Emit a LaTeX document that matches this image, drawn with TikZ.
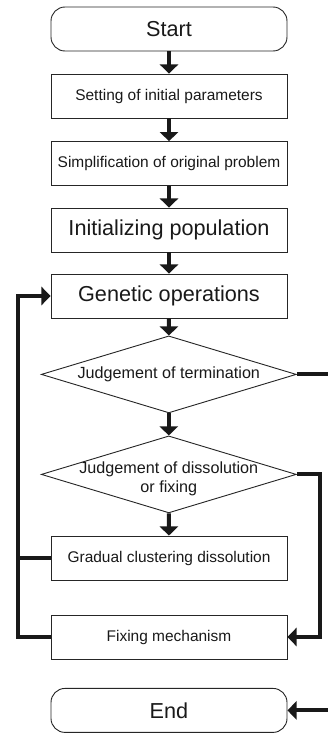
\documentclass[tikz,border=0pt]{standalone}
\usepackage{fontspec}
\setmainfont{Liberation Sans}
\usetikzlibrary{arrows.meta, shapes.geometric}

\begin{document}
\begin{tikzpicture}[
  box/.style={draw=black!85, line width=0.65pt, text=black!90, minimum width=5.9cm, minimum height=1.1cm, inner sep=0pt},
  term/.style={box, rounded corners=0.35cm},
  decision/.style={diamond, draw=black!85, line width=0.65pt, minimum width=6.375cm, minimum height=1.925cm, inner sep=0pt},
  dtext/.style={font=\fontsize{11.5}{13.5}\selectfont, text=black!90, align=center},
  big/.style={font=\fontsize{15.4}{18}\selectfont},
  small/.style={font=\fontsize{11}{13}\selectfont},
  flow/.style={line width=2.8pt, black!90, -{Triangle[width=13pt,length=6.5pt]}},
  link/.style={line width=2.8pt, black!90}
]
\useasboundingbox (0,0) rectangle (8.2,-18.325);
\clip (0,0) rectangle (8.2,-18.325);

\node[term,big]   (start) at (4.225,-0.725)  {Start};
\node[box,small]  (init)  at (4.225,-2.4)    {Setting of initial parameters};
\node[box,small]  (simp)  at (4.225,-4.09)   {Simplification of original problem};
\node[box,big]    (pop)   at (4.225,-5.75)   {Initializing population};
\node[box,big]    (gen)   at (4.225,-7.4)    {Genetic operations};
\node[decision, label={[dtext]center:Judgement of termination}] (term) at (4.22,-9.36) {};
\node[decision, label={[dtext,yshift=-0.1cm]center:{Judgement of dissolution\\or fixing}}] (judge) at (4.22,-11.86) {};
\node[box,small]  (grad)  at (4.225,-13.95)  {Gradual clustering dissolution};
\node[box,small]  (fix)   at (4.225,-15.925) {Fixing mechanism};
\node[term,big]   (end)   at (4.225,-17.76)  {End};

% side lines of the loops
\coordinate (lx) at (0.45,0);
\coordinate (rx) at (8.0,0);
\coordinate (ox) at (8.28,0); % runs off the right edge

\draw[flow] (start) -- (init);
\draw[flow] (init) -- (simp);
\draw[flow] (simp) -- (pop);
\draw[flow] (pop) -- (gen);
\draw[flow] (gen) -- (term);
\draw[flow] (term) -- (judge);
\draw[flow] (judge) -- (grad);

\draw[flow] (fix.west) -- (fix.west -| lx) |- (gen.west);
\draw[link] (grad.west) -- (grad.west -| lx);
\draw[flow] (judge.east) -- (judge.east -| rx) |- (fix.east);
\draw[flow] (term.east) -- (term.east -| ox) |- (end.east);
\end{tikzpicture}
\end{document}
